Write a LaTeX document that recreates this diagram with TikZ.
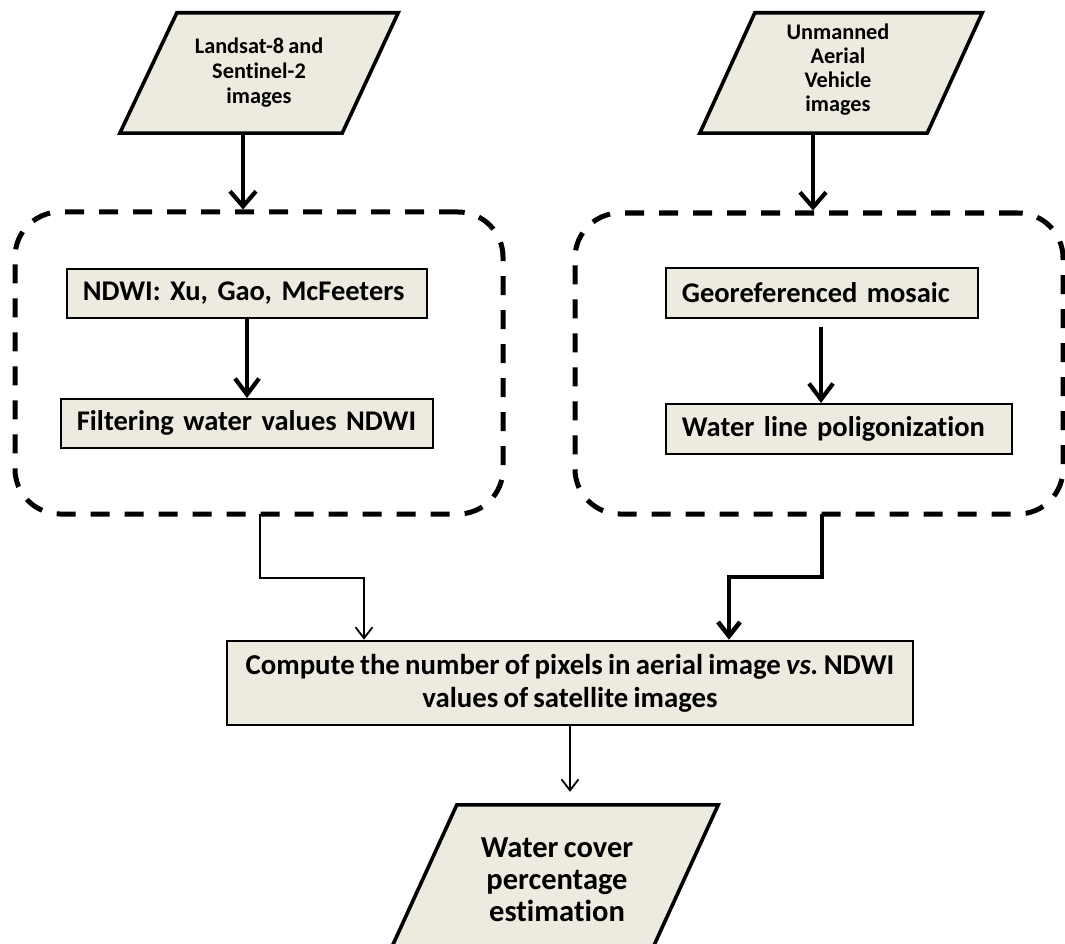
\documentclass[tikz,border=0pt]{standalone}
\usepackage{fontspec}
\setmainfont[Ligatures=NoCommon,WordSpace=0.8]{Carlito}
\usetikzlibrary{arrows.meta,calc}
\definecolor{boxfill}{RGB}{237,234,223}
\begin{document}
\frenchspacing
\begin{tikzpicture}[x=1pt,y=-1pt,
  box/.style={draw,fill=boxfill,line width=1.8pt,minimum height=50pt,inner xsep=16pt,inner ysep=0pt,align=left,anchor=north west,font=\fontsize{28.5}{33}\selectfont\bfseries},
  bigbox/.style={draw,fill=boxfill,line width=2.6pt,minimum width=686pt,minimum height=84pt,align=center,inner sep=0pt,font=\fontsize{28.8}{33}\selectfont\bfseries},
  ptext/.style={inner sep=0pt,align=center},
  para/.style={draw,fill=boxfill,line width=3.6pt,line join=miter},
  dbox/.style={draw,line width=5pt,rounded corners=45pt,dash pattern=on 19pt off 15pt,inner sep=0pt},
  thickarr/.style={line width=4.2pt,-{Straight Barb[length=15pt,width=26pt]}},
  midarr/.style={line width=4.2pt,-{Straight Barb[length=16pt,width=24pt]}},
  thinarr/.style={line width=1.8pt,-{Straight Barb[length=11pt,width=17pt]}},
]
\useasboundingbox (0,0) rectangle (1065,944);
\clip (0,0) rectangle (1065,944);

% top parallelograms
\node[ptext,minimum width=278pt,minimum height=120pt] (p1) at (259,73) {};
\draw[para] ([xshift=57pt]p1.north west) -- (p1.north east) -- ([xshift=-56pt]p1.south east) -- (p1.south west) -- cycle;
\node[ptext,font=\fontsize{22.3}{25}\selectfont\bfseries] (p1t) at (259,73) {Landsat-8 and\\Sentinel-2\\images};

\node[ptext,minimum width=282pt,minimum height=120pt] (p2) at (841,73) {};
\draw[para] ([xshift=55pt]p2.north west) -- (p2.north east) -- ([xshift=-55pt]p2.south east) -- (p2.south west) -- cycle;
\node[ptext,font=\fontsize{22.3}{24}\selectfont\bfseries] (p2t) at (838,70) {Unmanned\\Aerial\\Vehicle\\images};

% dashed groups
\node[dbox,minimum width=488pt,minimum height=302pt] (lb) at (259,363) {};
\node[dbox,minimum width=488pt,minimum height=301pt] (rb) at (819,363.5) {};

% inner boxes
\node[box,text width=328pt,minimum height=49pt] (ndwi) at (66,268) {NDWI: Xu, Gao, McFeeters};
\node[box,text width=340pt,minimum height=49pt] (filt) at (60,398) {Filtering water values NDWI};
\node[box,text width=280pt,minimum height=50pt] (geo) at (665,267) {Georeferenced mosaic};
\node[box,text width=314pt,minimum height=50pt] (wl) at (665,403) {Water line poligonization};

% compute box
\node[bigbox] (cmp) at (570,683) {Compute the number of pixels in aerial image \textit{vs.} NDWI\\values of satellite images};

% bottom parallelogram
\node[ptext,minimum width=332pt,minimum height=155pt] (p3) at (552,882.5) {};
\draw[para] ([xshift=71pt]p3.north west) -- (p3.north east) -- ([xshift=-71pt]p3.south east) -- (p3.south west) -- cycle;
\node[ptext,font=\fontsize{30.5}{32}\selectfont\bfseries] (p3t) at (557,880) {Water cover\\percentage\\estimation};

% coordinates
\coordinate (a1) at (243,133);
\coordinate (a2) at (813,133);
\coordinate (l1) at (260,514);
\coordinate (l2) at (364,578);
\coordinate (r1) at (822,514);
\coordinate (r2) at (729,577);

% connectors
\draw[thickarr] (a1) -- (a1 |- lb.north);
\draw[thickarr] (a2) -- (a2 |- rb.north);
\draw[midarr] (ndwi.south -| 247,0) -- (filt.north -| 247,0);
\draw[midarr,shorten <=8pt] (geo.south -| 821,0) -- (wl.north -| 821,0);
\draw[thinarr] (l1) |- (l2) -- (l2 |- cmp.north);
\draw[line width=4.6pt,-{Straight Barb[length=14pt,width=22pt]}] (r1) |- (r2) -- (r2 |- cmp.north);
\draw[thinarr,shorten >=13pt] (cmp.south) -- (cmp.south |- p3.north);
\end{tikzpicture}
\end{document}
